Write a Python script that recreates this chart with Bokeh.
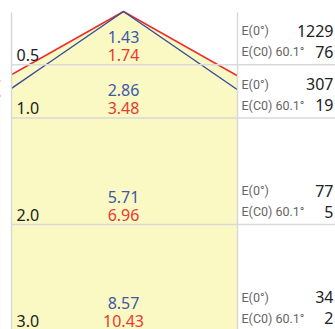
from bokeh.plotting import figure
from bokeh.models import ColumnDataSource, Range1d
from bokeh.core.properties import value
from bokeh.embed import file_html
from bokeh.resources import INLINE

# ---- data ----
distances = [0.5, 1.0, 2.0, 3.0]
diam_blue = [1.43, 2.86, 5.71, 8.57]
diam_red = [1.74, 3.48, 6.96, 10.43]
e_center = [1229, 307, 77, 34]
e_c0 = [76, 19, 5, 2]
label_center = "E(0°)"
label_c0 = "E(C0) 60.1°"

# ---- geometry (pixel scale of the drawing) ----
SX = 108.5   # px per metre horizontally
SY = 106.5   # px per metre vertically
CX = 123     # page x of the apex
AY = 11      # page y of the apex
PAGE_L, PAGE_T, PAGE_R, PAGE_B = 0, 0, 335, 329

W = PAGE_R - PAGE_L
H = PAGE_B - PAGE_T
x0 = (PAGE_L - CX) / SX
x1 = (PAGE_R - CX) / SX
y_top = (PAGE_T - AY) / SY
y_bot = (PAGE_B - AY) / SY
x_left = (11 - CX) / SX     # left border of the cone panel
x_div = (237 - CX) / SX     # divider between cone and table

p = figure(width=W, height=H, output_backend="svg", toolbar_location=None,
           x_range=Range1d(x0, x1), y_range=Range1d(y_bot, y_top),
           min_border=0, min_border_left=0, min_border_right=0,
           min_border_top=0, min_border_bottom=0)
p.axis.visible = False
p.grid.visible = False
p.outline_line_color = None
p.background_fill_color = "white"
p.border_fill_color = "white"

FILL = "#FAF8C3"
RED = "#E8302C"
BLUE = "#3A4E9E"
GRID = "#D9D9D9"

# cone fill under the red edge
red_left_x = [0.0] + [-d / 2 for d in diam_red]
red_left_y = [0.0] + distances
red_right_x = [d / 2 for d in diam_red]
px_ = red_left_x + red_right_x[::-1]
py_ = red_left_y + distances[::-1]
p.patch(px_, py_, fill_color=FILL, line_color=None)

# cone edges
blue_x = [-d / 2 for d in diam_blue[::-1]] + [0.0] + [d / 2 for d in diam_blue]
blue_y = distances[::-1] + [0.0] + distances
red_x = [-d / 2 for d in diam_red[::-1]] + [0.0] + [d / 2 for d in diam_red]
red_y = distances[::-1] + [0.0] + distances
p.line(red_x, red_y, line_color=RED, line_width=1.5)
p.line(blue_x, blue_y, line_color=BLUE, line_width=1.5)

# white margins: left strip and the table panel on the right
p.quad(left=[x0 - 1, x_div], right=[x_left, x1 + 1],
       top=[y_top - 1, y_top - 1], bottom=[y_bot + 1, y_bot + 1],
       fill_color="white", line_color=None)

# grid lines
p.segment(x0=[x_left] * len(distances), x1=[x1 + 1] * len(distances),
          y0=distances, y1=distances, line_color=GRID, line_width=1.5)
vy0 = 1.0 / SY
p.segment(x0=[x_left, x_div], x1=[x_left, x_div], y0=[vy0, vy0],
          y1=[y_bot + 1, y_bot + 1], line_color=GRID, line_width=1.5)

NUMF = value("Noto Sans")
SMALLF = value("Roboto")

src = ColumnDataSource(dict(
    d=distances,
    dl=[f"{d:.1f}" for d in distances],
    b=[f"{v:.2f}" for v in diam_blue],
    r=[f"{v:.2f}" for v in diam_red],
    ec=[str(v) for v in e_center],
    e0=[str(v) for v in e_c0],
    lc=[label_center] * len(distances),
    l0=[label_c0] * len(distances),
    xc=[0.0] * len(distances),
    xl=[x_left] * len(distances),
    xd=[x_div] * len(distances),
))

p.text(x="xl", y="d", text="dl", source=src, x_offset=5, y_offset=-10,
       text_font=NUMF, text_font_size="16px", text_color="#222222",
       text_align="left", text_baseline="alphabetic")
p.text(x="xc", y="d", text="b", source=src, y_offset=-28,
       text_font=NUMF, text_font_size="16px", text_color="#3D58A8",
       text_align="center", text_baseline="alphabetic")
p.text(x="xc", y="d", text="r", source=src, y_offset=-10,
       text_font=NUMF, text_font_size="16px", text_color="#E83A32",
       text_align="center", text_baseline="alphabetic")
p.text(x="xd", y="d", text="lc", source=src, x_offset=4, y_offset=-34,
       text_font=SMALLF, text_font_size="12.5px", text_color="#666666",
       text_align="left", text_baseline="alphabetic")
p.text(x="xd", y="d", text="l0", source=src, x_offset=4, y_offset=-13,
       text_font=SMALLF, text_font_size="12.5px", text_color="#666666",
       text_align="left", text_baseline="alphabetic")
p.text(x="xd", y="d", text="ec", source=src, x_offset=96, y_offset=-34,
       text_font=NUMF, text_font_size="16px", text_color="#222222",
       text_align="right", text_baseline="alphabetic")
p.text(x="xd", y="d", text="e0", source=src, x_offset=96, y_offset=-13,
       text_font=NUMF, text_font_size="16px", text_color="#222222",
       text_align="right", text_baseline="alphabetic")

open("out.html", "w").write(file_html(p, INLINE))
